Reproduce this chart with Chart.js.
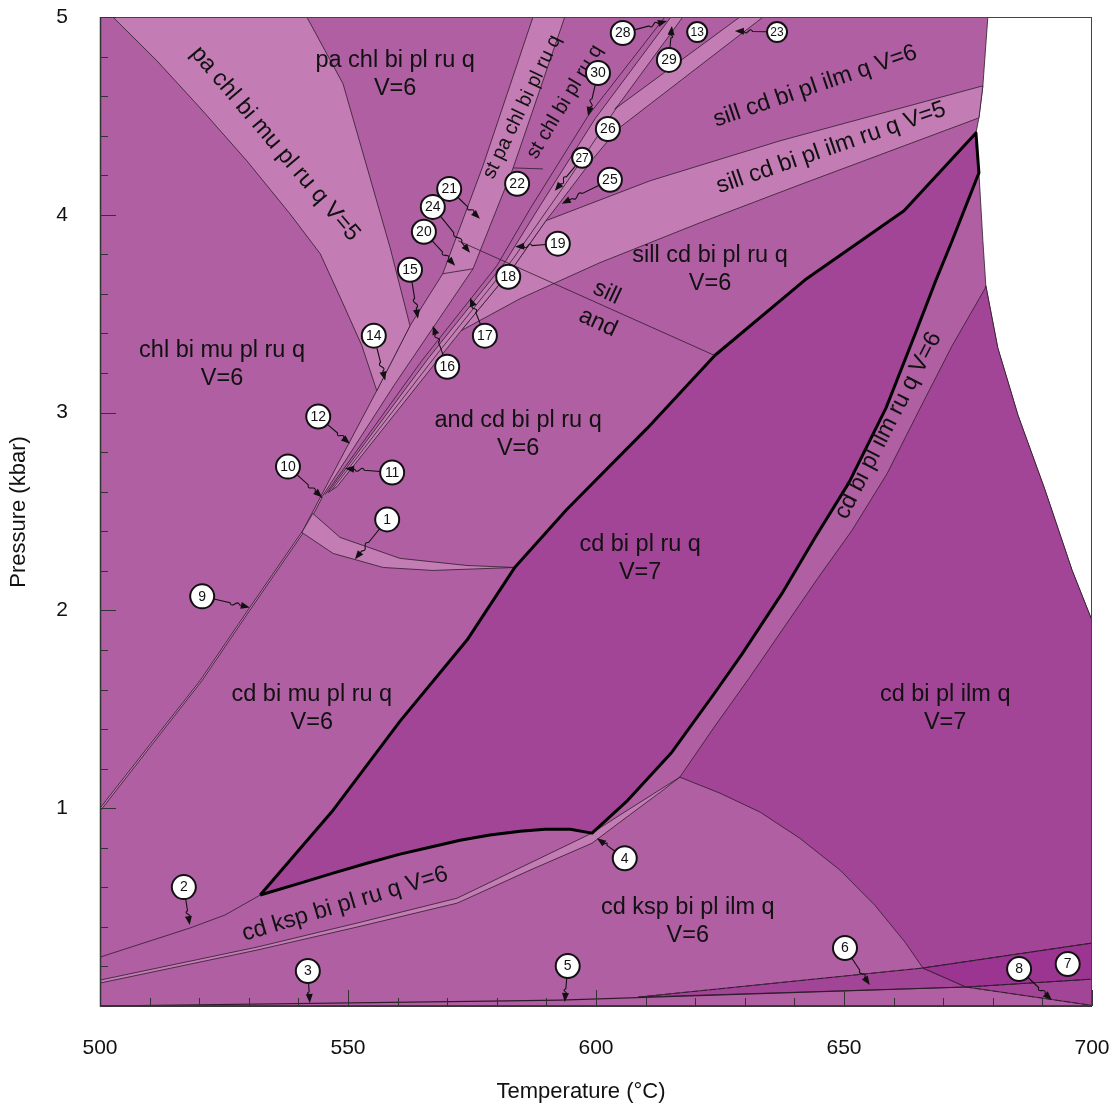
<!DOCTYPE html>
<html>
<head>
<meta charset="utf-8">
<script src="https://cdn.jsdelivr.net/npm/chart.js@4.4.1/dist/chart.umd.min.js"></script>
<style>
html, body { margin: 0; padding: 0; background: #fff; }
</style>
</head>
<body>
<canvas id="myChart" width="1113" height="1109"></canvas>
<script>
// field outlines, [T (°C), P (kbar)]
var diagramArea = [[500,0],[500,5],[679.0,5],[678.0,4.652],[677.2,4.490],[676.6,4.414],[677.2,4.212],[678.0,3.869],[678.6,3.641],[681.0,3.328],[685.1,2.985],[690.5,2.611],[696.0,2.202],[700,1.949],[700,0],[500,0]];

var cdBiPlRuQ = [[532.3,0.561],[547.0,0.99],[560.5,1.44],[574.0,1.85],[583.7,2.22],[594.1,2.51],[610.3,2.92],[624.0,3.29],[642.1,3.67],[662.1,4.02],[676.6,4.414],[677.2,4.212],[671.8,3.869],[668.5,3.667],[664.6,3.414],[658.5,3.025],[651.0,2.646],[644.3,2.374],[637.5,2.086],[629.4,1.778],[623.6,1.571],[615.3,1.283],[606.4,1.04],[599.2,0.874],[594.8,0.894],[589.7,0.894],[584.7,0.884],[578.6,0.864],[572.6,0.838],[566.5,0.803],[560.5,0.768],[553.8,0.722],[547.0,0.672],[539.7,0.616],[532.3,0.561]];

var cdBiPlIlmQ = [[678.4,3.626],[671.8,3.338],[665.3,3.020],[658.7,2.692],[651.6,2.404],[644.7,2.162],[637.9,1.914],[631.0,1.662],[623.8,1.409],[616.9,1.157],[625.0,1.076],[633.1,0.980],[641.1,0.848],[649.2,0.687],[656.2,0.510],[662.3,0.323],[665.9,0.192],[700,0.318],[700,1.949],[696.0,2.202],[690.5,2.611],[685.1,2.985],[681.0,3.328],[678.6,3.641],[678.4,3.626]];

var field6 = [[608.5,0.045],[665.9,0.192],[674.6,0.096],[608.5,0.045]];
var field7 = [[665.9,0.192],[700,0.318],[700,0.136],[674.6,0.096],[665.9,0.192]];
var field8 = [[674.6,0.096],[700,0.136],[700,0.003],[674.6,0.096]];

var paChlBiMuBand = [[502.6,5.0],[511.5,4.778],[520.2,4.540],[529.6,4.273],[538.3,4.005],[544.4,3.803],[549.0,3.551],[552.8,3.338],[555.8,3.111],[562.5,3.439],[558.5,3.833],[549.0,4.662],[541.7,5.0],[502.6,5.0]];
var stPaChlBand = [[587.3,5.0],[577.2,4.247],[569.1,3.702],[562.5,3.439],[555.8,3.111],[544.4,2.571],[544.8,2.576],[559.5,3.146],[575.2,3.727],[583.3,4.237],[593.7,5.0],[587.3,5.0]];
var fanBand = [[615.1,5.0],[599.8,4.485],[588.7,4.045],[581.6,3.758],[566.3,3.278],[546.0,2.596],[547.8,2.626],[572.8,3.414],[583.1,3.727],[589.9,3.970],[592.7,4.061],[599.4,4.283],[604.4,4.434],[633.7,5.0],[629.0,5.0],[603.8,4.535],[604.4,4.551],[617.5,5.0],[615.1,5.0]];
var sillBand = [[678.0,4.652],[637.1,4.374],[610.9,4.172],[589.9,3.970],[583.1,3.727],[572.8,3.414],[584.7,3.576],[600.8,3.758],[621.0,3.960],[641.1,4.152],[677.2,4.490],[678.0,4.652]];
var band1 = [[542.9,2.490],[548.4,2.369],[560.5,2.263],[574.0,2.227],[583.7,2.217],[567.1,2.202],[557.1,2.217],[547.0,2.288],[540.7,2.394],[542.9,2.490]];
var ruBand = [[500,0.131],[531.7,0.298],[551.8,0.419],[572.0,0.545],[599.2,0.874],[604.8,0.965],[616.9,1.157],[613.5,1.091],[604.8,0.929],[599.2,0.823],[586.7,0.687],[572.0,0.520],[551.8,0.399],[531.7,0.283],[500,0.116],[500,0.131]];
var line9Band = [[500,1.0],[520.2,1.646],[530.2,2.015],[540.9,2.404],[544.4,2.571],[544.8,2.571],[541.3,2.404],[530.6,2.015],[520.6,1.646],[500,0.985],[500,1.0]];

// single reaction lines
var fanLineC = [[545.4,2.586],[564.9,3.263],[580.0,3.742],[586.7,4.030],[598.4,4.500],[613.9,5.0]];
var fanLineE = [[546.8,2.611],[568.5,3.313],[583.3,3.778],[594.3,4.172],[604.4,4.551]];
var andSill = [[572.2,3.869],[624.0,3.288]];
var seg20 = [[569.1,3.702],[575.2,3.727]];
var seg22 = [[583.3,4.237],[589.3,4.232]];
var line2 = [[500,0.247],[518.1,0.394],[525.2,0.460],[532.3,0.561]];
var bottomLine = [[500,0.0],[578.6,0.025],[592.7,0.030],[674.6,0.096]];
var dash1 = [[608.5,0.045],[665.9,0.192],[700,0.318]];
var dash2 = [[674.6,0.096],[700,0.136]];
var dash3 = [[674.6,0.096],[700,0.003]];

// field names: text, T, P, rotation (deg), font size
var fieldLabels = [
    ['pa chl bi mu pl ru q V=5', 535.3, 4.359, 49.6, 23.5],
    ['pa chl bi pl ru q\nV=6', 559.5, 4.707, 0, 23.5],
    ['st pa chl bi pl ru q', 585.1, 4.545, -64.4, 20],
    ['st chl bi pl ru q', 593.7, 4.571, -59, 20],
    ['sill cd bi pl ilm q V=6', 644.2, 4.650, -18.8, 23.5],
    ['sill cd bi pl ilm ru q V=5', 647.4, 4.338, -19, 23.5],
    ['sill cd bi pl ru q\nV=6', 623.0, 3.725, 0, 23.5],
    ['sill', 602.2, 3.606, 25, 23.5],
    ['and', 600.4, 3.455, 25, 23.5],
    ['chl bi mu pl ru q\nV=6', 524.6, 3.243, 0, 23.5],
    ['and cd bi pl ru q\nV=6', 584.3, 2.889, 0, 23.5],
    ['cd bi pl ru q\nV=7', 608.9, 2.263, 0, 23.5],
    ['cd bi pl ilm ru q V=6', 658.9, 2.934, -62.7, 23.5],
    ['cd bi mu pl ru q\nV=6', 542.7, 1.505, 0, 23.5],
    ['cd bi pl ilm q\nV=7', 670.4, 1.505, 0, 23.5],
    ['cd ksp bi pl ru q V=6', 549.4, 0.515, -16.6, 23.5],
    ['cd ksp bi pl ilm q\nV=6', 618.5, 0.425, 0, 23.5]
];

// numbered small fields: number, T, P, arrow target T, P
var callouts = [
    [1, 557.9, 2.460, 551.4, 2.258],
    [2, 516.9, 0.601, 518.1, 0.409],
    [3, 541.9, 0.177, 542.3, 0.015],
    [4, 605.8, 0.747, 600.2, 0.848],
    [5, 594.3, 0.202, 593.7, 0.020],
    [6, 650.2, 0.293, 655.2, 0.106],
    [7, 695.1, 0.212, null, null],
    [8, 685.3, 0.187, 691.9, 0.030],
    [9, 520.6, 2.071, 530.2, 2.015],
    [10, 537.9, 2.727, 544.8, 2.571],
    [11, 558.9, 2.697, 549.4, 2.717],
    [12, 544.0, 2.980, 550.4, 2.843],
    [13, 620.4, 4.924, null, null],
    [14, 555.2, 3.389, 557.5, 3.162],
    [15, 562.5, 3.722, 564.1, 3.475],
    [16, 570.0, 3.232, 567.1, 3.439],
    [17, 577.6, 3.389, 574.6, 3.581],
    [18, 582.3, 3.687, null, null],
    [19, 592.3, 3.854, 583.7, 3.838],
    [20, 565.3, 3.914, 571.6, 3.742],
    [21, 570.4, 4.131, 576.6, 3.980],
    [22, 584.1, 4.157, null, null],
    [23, 636.5, 4.924, 628.0, 4.929],
    [24, 567.1, 4.040, 574.6, 3.808],
    [25, 602.8, 4.177, 593.1, 4.056],
    [26, 602.4, 4.434, null, null],
    [27, 597.2, 4.288, 591.7, 4.121],
    [28, 605.4, 4.919, 614.3, 4.980],
    [29, 614.7, 4.783, 615.3, 4.955],
    [30, 600.4, 4.717, 598.4, 4.500]
];

var xMinorTicks = [];
for (var t = 500; t <= 700; t += 10) xMinorTicks.push(t);
var yMinorTicks = [];
for (var i = 0; i <= 25; i++) yMinorTicks.push(i / 5);

var MID = '#b05fa3', LIGHT = '#c47db4', DARK = '#a34596', DARKER = '#9b3591', LINE = '#2e1c2c';
var FONT = "'Liberation Sans', Arial, sans-serif";

function pts(arr) {
    return arr.map(function(p) { return {x: p[0], y: p[1]}; });
}

function area(arr, color, order) {
    return {data: pts(arr), showLine: true, fill: 'shape', backgroundColor: color,
        borderColor: LINE, borderWidth: 0.8, pointRadius: 0, tension: 0, order: order};
}

function line(arr, order, extra) {
    var d = {data: pts(arr), showLine: true, fill: false, borderColor: LINE,
        borderWidth: 0.8, pointRadius: 0, tension: 0, order: order};
    return Object.assign(d, extra || {});
}

function drawCallout(ctx, cx, cy, tx, ty, r) {
    var dx = tx - cx, dy = ty - cy;
    var len = Math.sqrt(dx * dx + dy * dy);
    var ux = dx / len, uy = dy / len, nx = -uy, ny = ux;
    var sx = cx + ux * r, sy = cy + uy * r, L = len - r;
    function at(f, off) { return [sx + ux * L * f + nx * off, sy + uy * L * f + ny * off]; }
    ctx.beginPath();
    ctx.moveTo(sx, sy);
    var a = at(0.45, 0), b = at(0.55, 6), c = at(0.62, -6), d = at(0.72, 0), e = at(1, 0);
    ctx.lineTo(a[0], a[1]);
    ctx.bezierCurveTo(b[0], b[1], c[0], c[1], d[0], d[1]);
    ctx.lineTo(e[0] - ux * 6, e[1] - uy * 6);
    ctx.stroke();
    ctx.beginPath();
    ctx.moveTo(tx, ty);
    ctx.lineTo(tx - ux * 9 + nx * 3.5, ty - uy * 9 + ny * 3.5);
    ctx.lineTo(tx - ux * 9 - nx * 3.5, ty - uy * 9 - ny * 3.5);
    ctx.closePath();
    ctx.fill();
}

var decorPlugin = {
    id: 'decor',
    afterDatasetsDraw: function(chart) {
        var ctx = chart.ctx, xs = chart.scales.x, ys = chart.scales.y, ca = chart.chartArea;
        ctx.save();
        // field names
        ctx.fillStyle = '#111';
        ctx.textAlign = 'center';
        ctx.textBaseline = 'middle';
        fieldLabels.forEach(function(l) {
            var lines = l[0].split('\n');
            ctx.save();
            ctx.font = l[4] + 'px ' + FONT;
            ctx.translate(xs.getPixelForValue(l[1]), ys.getPixelForValue(l[2]));
            ctx.rotate(l[3] * Math.PI / 180);
            lines.forEach(function(s, k) {
                ctx.fillText(s, 0, (k - (lines.length - 1) / 2) * 28);
            });
            ctx.restore();
        });
        // numbered callouts
        callouts.forEach(function(c) {
            var cx = xs.getPixelForValue(c[1]), cy = ys.getPixelForValue(c[2]);
            var small = (c[0] === 13 || c[0] === 23 || c[0] === 27);
            var r = small ? 10 : 12;
            ctx.strokeStyle = '#111';
            ctx.fillStyle = '#111';
            ctx.lineWidth = 1.1;
            if (c[3] !== null) {
                drawCallout(ctx, cx, cy, xs.getPixelForValue(c[3]), ys.getPixelForValue(c[4]), r);
            }
            ctx.beginPath();
            ctx.arc(cx, cy, r, 0, 2 * Math.PI);
            ctx.fillStyle = '#fff';
            ctx.fill();
            ctx.lineWidth = 2;
            ctx.stroke();
            ctx.fillStyle = '#111';
            ctx.font = (small ? '12px ' : '14px ') + FONT;
            ctx.fillText(String(c[0]), cx, cy + 0.5);
        });
        // frame and inward ticks
        ctx.strokeStyle = '#444';
        ctx.lineWidth = 1;
        ctx.strokeRect(ca.left + 0.5, ca.top + 0.5, ca.right - ca.left - 1, ca.bottom - ca.top);
        ctx.strokeStyle = '#333';
        ctx.lineWidth = 1.5;
        ctx.beginPath();
        ctx.moveTo(ca.left + 0.5, ca.top);
        ctx.lineTo(ca.left + 0.5, ca.bottom);
        ctx.lineTo(ca.right, ca.bottom);
        ctx.stroke();
        ctx.lineWidth = 1;
        ctx.beginPath();
        xMinorTicks.forEach(function(v) {
            var x = Math.round(xs.getPixelForValue(v)) + 0.5;
            var len = (v % 50 === 0) ? 16 : 8;
            ctx.moveTo(x, ca.bottom);
            ctx.lineTo(x, ca.bottom - len);
        });
        yMinorTicks.forEach(function(v) {
            var y = Math.round(ys.getPixelForValue(v)) + 0.5;
            var len = (Math.abs(v - Math.round(v)) < 1e-6) ? 16 : 8;
            ctx.moveTo(ca.left, y);
            ctx.lineTo(ca.left + len, y);
        });
        ctx.stroke();
        // axis titles
        ctx.fillStyle = '#111';
        ctx.font = '22px ' + FONT;
        ctx.fillText('Temperature (°C)', 581, 1092);
        ctx.save();
        ctx.translate(19, 512);
        ctx.rotate(-Math.PI / 2);
        ctx.fillText('Pressure (kbar)', 0, 0);
        ctx.restore();
        ctx.restore();
    }
};

window.onload = function() {
    var ctx = document.getElementById('myChart').getContext('2d');
    new Chart(ctx, {
        type: 'scatter',
        data: {
            datasets: [
                area(diagramArea, MID, 30),
                area(cdBiPlIlmQ, DARK, 20),
                area(cdBiPlRuQ, DARK, 20),
                area(field6, DARK, 20),
                area(field8, DARK, 20),
                area(field7, DARKER, 19),
                area(paChlBiMuBand, LIGHT, 15),
                area(stPaChlBand, LIGHT, 15),
                area(fanBand, LIGHT, 15),
                area(sillBand, LIGHT, 15),
                area(band1, LIGHT, 15),
                area(ruBand, LIGHT, 15),
                area(line9Band, LIGHT, 15),
                line(fanLineC, 10),
                line(fanLineE, 10),
                line(andSill, 10),
                line(seg20, 10),
                line(seg22, 10),
                line(line2, 10),
                line(bottomLine, 10, {borderWidth: 1.2}),
                line(dash1, 10, {borderDash: [6, 3]}),
                line(dash2, 10, {borderDash: [6, 3]}),
                line(dash3, 10, {borderDash: [6, 3]}),
                line(cdBiPlRuQ, 1, {borderColor: '#000', borderWidth: 3, borderJoinStyle: 'round'})
            ]
        },
        options: {
            responsive: false,
            animation: false,
            events: [],
            layout: {padding: {top: 17, right: 21, left: 0, bottom: 0}},
            plugins: {legend: {display: false}, tooltip: {enabled: false}},
            scales: {
                x: {
                    type: 'linear', min: 500, max: 700,
                    grid: {display: true, drawOnChartArea: false, drawTicks: true, tickLength: 30, color: 'rgba(0,0,0,0)'},
                    border: {display: false},
                    ticks: {stepSize: 50, padding: 0, color: '#111', font: {family: FONT, size: 21}},
                    afterFit: function(scale) { scale.height = 103; }
                },
                y: {
                    type: 'linear', min: 0, max: 5,
                    grid: {display: true, drawOnChartArea: false, drawTicks: true, tickLength: 32, color: 'rgba(0,0,0,0)'},
                    border: {display: false},
                    ticks: {stepSize: 1, padding: 0, color: '#111', font: {family: FONT, size: 21},
                        callback: function(v) { return v === 0 ? '' : v; }},
                    afterFit: function(scale) { scale.width = 100; }
                }
            }
        },
        plugins: [decorPlugin]
    });
};
</script>
</body>
</html>
